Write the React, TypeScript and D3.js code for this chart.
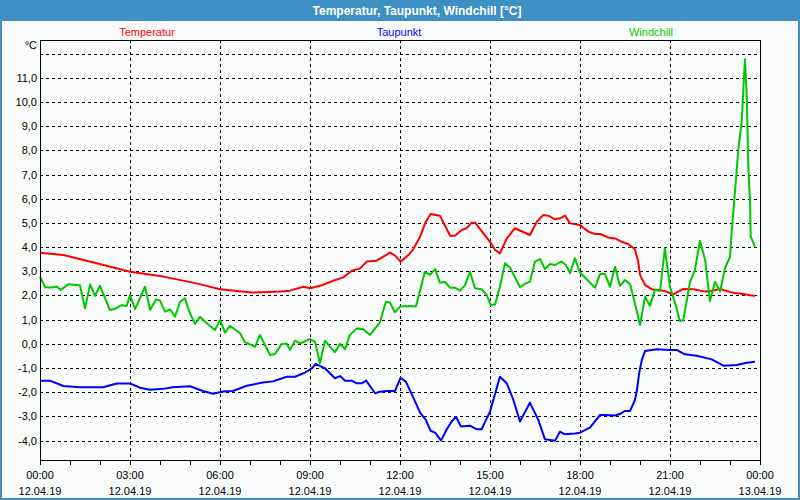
import * as d3 from 'd3';

const title = 'Temperatur, Taupunkt, Windchill [°C]';
const seriesNames = ['Temperatur', 'Taupunkt', 'Windchill'];
const seriesColors = ['#ff0000', '#0000ff', '#00c800'];

// hours after 00:00 on 12.04.19, and values in °C
const tempHours = [0, 0.78, 1.89, 3.0, 4.11, 5.22, 6.0, 7.06, 8.0, 8.33, 8.78, 9.0, 9.39, 9.77, 10.11, 10.39, 10.67, 10.89, 11.22, 11.67, 11.83, 12.02, 12.28, 12.44, 12.67, 12.86, 13.02, 13.33, 13.67, 13.83, 14.06, 14.22, 14.39, 14.5, 15.0, 15.17, 15.33, 15.56, 15.83, 16.33, 16.56, 16.78, 16.94, 17.17, 17.33, 17.5, 17.67, 18.0, 18.28, 18.5, 18.67, 18.94, 19.17, 19.39, 19.61, 19.83, 19.94, 20.0, 20.17, 20.39, 20.78, 21.11, 21.44, 21.78, 22.17, 22.39, 22.67, 23.06, 23.44, 23.83];
const tempValues = [3.77, 3.67, 3.33, 2.98, 2.78, 2.5, 2.26, 2.12, 2.16, 2.2, 2.36, 2.3, 2.42, 2.61, 2.75, 3.02, 3.12, 3.4, 3.44, 3.77, 3.66, 3.4, 3.67, 3.91, 4.43, 5.05, 5.37, 5.3, 4.47, 4.47, 4.71, 4.78, 5.01, 5.01, 4.22, 3.88, 3.74, 4.36, 4.78, 4.5, 5.05, 5.33, 5.3, 5.15, 5.19, 5.3, 4.98, 4.91, 4.64, 4.54, 4.54, 4.4, 4.36, 4.22, 4.13, 3.91, 3.4, 2.85, 2.43, 2.26, 2.2, 2.05, 2.27, 2.26, 2.16, 2.2, 2.27, 2.12, 2.06, 1.98];

const dewHours = [0, 0.33, 0.78, 1.33, 2.1, 2.56, 3.0, 3.33, 3.67, 4.1, 4.43, 5.0, 5.43, 5.77, 6.1, 6.43, 6.89, 7.43, 7.77, 8.0, 8.22, 8.5, 8.83, 9.06, 9.19, 9.5, 9.83, 10.0, 10.17, 10.39, 10.56, 10.72, 10.87, 11.17, 11.33, 11.56, 11.83, 12.02, 12.2, 12.44, 12.67, 12.86, 13.02, 13.17, 13.37, 13.56, 13.72, 13.87, 14.03, 14.33, 14.56, 14.72, 15.0, 15.33, 15.56, 15.78, 16.0, 16.33, 16.61, 16.83, 17.17, 17.33, 17.5, 17.83, 18.0, 18.33, 18.67, 18.83, 19.17, 19.33, 19.5, 19.67, 19.83, 19.89, 19.98, 20.06, 20.17, 20.56, 21.0, 21.22, 21.5, 21.89, 22.39, 22.78, 23.22, 23.56, 23.83];
const dewValues = [-1.52, -1.52, -1.74, -1.79, -1.79, -1.64, -1.64, -1.81, -1.9, -1.86, -1.79, -1.75, -1.95, -2.06, -1.97, -1.95, -1.73, -1.6, -1.55, -1.45, -1.36, -1.36, -1.19, -1.01, -0.83, -1.01, -1.42, -1.33, -1.52, -1.52, -1.63, -1.63, -1.52, -2.04, -1.98, -1.95, -1.95, -1.4, -1.57, -2.21, -2.84, -3.14, -3.59, -3.67, -4.0, -3.53, -3.21, -3.01, -3.42, -3.38, -3.53, -3.53, -2.8, -1.36, -1.63, -2.32, -3.21, -2.43, -3.14, -3.94, -4.0, -3.63, -3.74, -3.7, -3.67, -3.46, -2.94, -2.94, -2.96, -2.9, -2.77, -2.77, -2.32, -1.97, -1.15, -0.67, -0.29, -0.22, -0.25, -0.25, -0.43, -0.49, -0.64, -0.9, -0.87, -0.78, -0.74];

const chillHours = [0, 0.17, 0.39, 0.56, 0.69, 0.94, 1.33, 1.5, 1.67, 1.83, 2.0, 2.33, 2.5, 2.72, 2.89, 3.0, 3.17, 3.5, 3.67, 3.87, 4.0, 4.17, 4.33, 4.5, 4.67, 4.83, 5.0, 5.17, 5.33, 5.56, 5.83, 6.0, 6.17, 6.33, 6.67, 6.83, 7.17, 7.33, 7.67, 7.83, 8.06, 8.22, 8.33, 8.5, 8.67, 9.0, 9.17, 9.33, 9.5, 9.83, 10.0, 10.17, 10.33, 10.56, 10.78, 11.0, 11.33, 11.53, 11.67, 11.83, 12.0, 12.33, 12.53, 12.83, 13.0, 13.17, 13.33, 13.5, 13.67, 13.83, 14.0, 14.17, 14.33, 14.5, 14.72, 14.89, 15.02, 15.17, 15.33, 15.5, 15.67, 16.0, 16.17, 16.33, 16.5, 16.67, 16.83, 17.0, 17.17, 17.37, 17.53, 17.67, 17.83, 18.0, 18.17, 18.5, 18.67, 18.83, 19.0, 19.17, 19.33, 19.5, 19.67, 19.83, 20.0, 20.17, 20.33, 20.5, 20.67, 20.83, 21.0, 21.17, 21.33, 21.44, 21.67, 21.83, 22.0, 22.17, 22.33, 22.5, 22.67, 22.83, 23.0, 23.06, 23.17, 23.28, 23.39, 23.47, 23.5, 23.56, 23.61, 23.67, 23.69, 23.83];
const chillValues = [2.78, 2.34, 2.33, 2.37, 2.23, 2.46, 2.42, 1.47, 2.46, 1.98, 2.4, 1.4, 1.45, 1.6, 1.57, 2.02, 1.44, 2.36, 1.4, 1.84, 1.79, 1.33, 1.43, 1.12, 1.74, 1.88, 1.26, 0.82, 1.12, 0.85, 0.57, 0.99, 0.46, 0.75, 0.44, 0.07, -0.12, 0.37, -0.46, -0.42, 0, 0.02, -0.25, 0.13, 0.02, 0.2, 0.08, -0.8, 0.13, -0.35, 0, -0.22, 0.37, 0.64, 0.6, 0.37, 0.89, 1.74, 1.7, 1.31, 1.54, 1.57, 1.54, 2.98, 2.85, 3.09, 2.53, 2.56, 2.32, 2.32, 2.2, 2.43, 2.98, 2.3, 2.26, 2.02, 1.61, 1.63, 2.36, 3.33, 3.15, 2.34, 2.49, 2.57, 3.4, 3.51, 3.09, 3.3, 3.26, 3.4, 3.26, 2.92, 3.54, 2.94, 2.74, 2.32, 2.89, 2.89, 2.36, 3.19, 2.4, 2.64, 2.46, 1.68, 0.78, 1.95, 1.57, 2.23, 2.2, 3.95, 2.36, 1.68, 0.95, 0.97, 2.57, 3.05, 4.26, 3.47, 1.77, 2.57, 2.16, 3.12, 3.6, 4.7, 6.36, 8.08, 9.18, 11.1, 11.76, 10.2, 7.32, 5.81, 4.43, 4.02];

const xTickHours = [0, 3, 6, 9, 12, 15, 18, 21, 24];
const xTimeLabels = ['00:00', '03:00', '06:00', '09:00', '12:00', '15:00', '18:00', '21:00', '00:00'];
const xDateLabels = ['12.04.19', '12.04.19', '12.04.19', '12.04.19', '12.04.19', '12.04.19', '12.04.19', '12.04.19', '13.04.19'];
const yGridValues = [-4, -3, -2, -1, 0, 1, 2, 3, 4, 5, 6, 7, 8, 9, 10, 11, 12];
const yLabelValues = [-4, -3, -2, -1, 0, 1, 2, 3, 4, 5, 6, 7, 8, 9, 10, 11];

const W = 800;
const H = 500;
const plot = { left: 40, right: 760, top: 40, bottom: 460 };
const font = "'Liberation Sans', Arial, sans-serif";
const frameBlue = '#3d8fc4';
const bg = '#f9fcfa';

export default function App() {
  const x = d3.scaleLinear().domain([0, 24]).range([plot.left, plot.right]);
  const y = d3.scaleLinear().domain([-4.8, 12.56]).range([plot.bottom, plot.top]);
  const px = (v: number) => Math.round(v) + 0.5;

  const series = [
    { hours: tempHours, values: tempValues },
    { hours: dewHours, values: dewValues },
    { hours: chillHours, values: chillValues },
  ];
  const line = d3
    .line<[number, number]>()
    .x((d) => x(d[0]))
    .y((d) => y(d[1]));

  const fmt = (v: number) => v.toFixed(1).replace('.', ',');
  const legendX = [147, 399, 651];
  const hourTicks = d3.range(0, 25);

  return (
    <div style={{ position: 'fixed', left: 0, top: 0 }}>
      <svg width={W} height={H} style={{ display: 'block' }} fontFamily={font}>
        <rect x={0} y={0} width={W} height={H} fill={bg} />
        <rect x={0} y={0} width={W} height={21} fill={frameBlue} />
        <rect x={1} y={1} width={W - 2} height={H - 2} fill="none" stroke={frameBlue} strokeWidth={2} />
        <text x={417} y={15} textAnchor="middle" fill="#ffffff" fontWeight="bold" fontSize={12}>
          {title}
        </text>

        {seriesNames.map((n, i) => (
          <text key={n} x={legendX[i]} y={36} textAnchor="middle" fill={seriesColors[i]} fontSize={11}>
            {n}
          </text>
        ))}

        <rect x={plot.left} y={plot.top} width={plot.right - plot.left} height={plot.bottom - plot.top} fill={bg} />

        {/* grid */}
        <g stroke="#000" strokeWidth={1} strokeDasharray="3,3" shapeRendering="crispEdges">
          {yGridValues.map((v) => (
            <line key={'h' + v} x1={plot.left} x2={plot.right} y1={px(y(v))} y2={px(y(v))} />
          ))}
          {xTickHours.slice(1, -1).map((h) => (
            <line key={'v' + h} x1={px(x(h))} x2={px(x(h))} y1={plot.top} y2={plot.bottom} />
          ))}
        </g>

        {/* series */}
        {series.map((s, i) => (
          <path
            key={seriesNames[i]}
            d={line(s.hours.map((h, k) => [h, s.values[k]] as [number, number])) || ''}
            fill="none"
            stroke={seriesColors[i]}
            strokeWidth={2}
            strokeLinejoin="round"
          />
        ))}

        {/* frame */}
        <rect
          x={plot.left + 0.5}
          y={plot.top + 0.5}
          width={plot.right - plot.left}
          height={plot.bottom - plot.top}
          fill="none"
          stroke="#000"
          shapeRendering="crispEdges"
        />
        <g stroke="#000" shapeRendering="crispEdges">
          {hourTicks.map((h) => (
            <line key={'t' + h} x1={px(x(h))} x2={px(x(h))} y1={plot.bottom} y2={plot.bottom + 5} />
          ))}
        </g>

        {/* y labels */}
        <g fontSize={11} fill="#000" textAnchor="end">
          {yLabelValues.map((v) => (
            <text key={'y' + v} x={37} y={y(v) + 4}>
              {fmt(v)}
            </text>
          ))}
          <text x={37} y={49}>°C</text>
        </g>

        {/* x labels */}
        <g fontSize={11} fill="#000" textAnchor="middle">
          {xTickHours.map((h, i) => (
            <g key={'x' + i}>
              <text x={x(h)} y={479}>{xTimeLabels[i]}</text>
              <text x={x(h)} y={495}>{xDateLabels[i]}</text>
            </g>
          ))}
        </g>
      </svg>
    </div>
  );
}
